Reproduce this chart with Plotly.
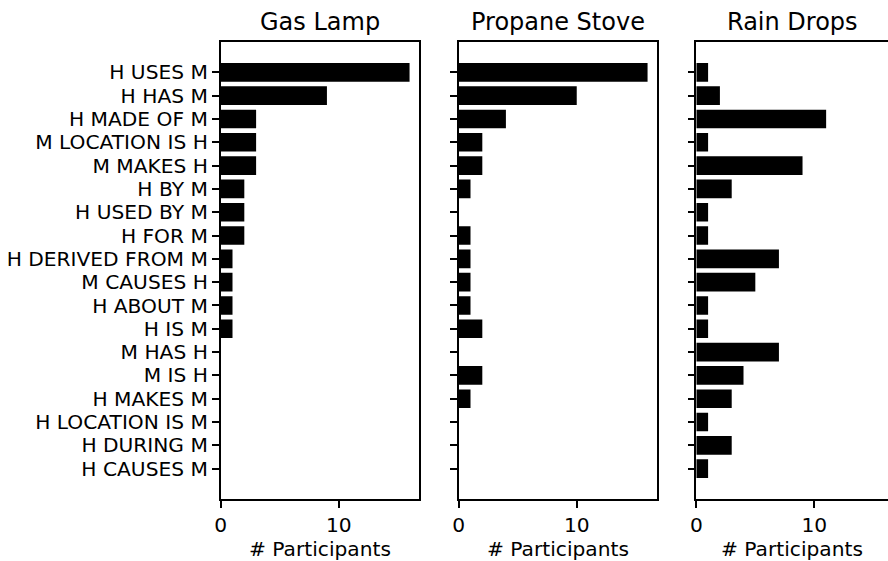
import plotly.graph_objects as go

categories = ["H USES M", "H HAS M", "H MADE OF M", "M LOCATION IS H", "M MAKES H",
              "H BY M", "H USED BY M", "H FOR M", "H DERIVED FROM M", "M CAUSES H",
              "H ABOUT M", "H IS M", "M HAS H", "M IS H", "H MAKES M",
              "H LOCATION IS M", "H DURING M", "H CAUSES M"]
gas_lamp = [16, 9, 3, 3, 3, 2, 2, 2, 1, 1, 1, 1, 0, 0, 0, 0, 0, 0]
propane_stove = [16, 10, 4, 2, 2, 1, 0, 1, 1, 1, 1, 2, 0, 2, 1, 0, 0, 0]
rain_drops = [1, 2, 11, 1, 9, 3, 1, 1, 7, 5, 1, 1, 7, 4, 3, 1, 3, 1]
titles = ["Gas Lamp", "Propane Stove", "Rain Drops"]
x_label = "# Participants"
x_ticks = [0, 10]

W, H = 888, 561
FONT = "DejaVu Sans"
TICK_SIZE = 20.2
top_px, bot_px = 42.3, 498.7
doms_px = [(220.7, 419.0), (458.7, 657.0), (696.3, 888.0)]
px_per_unit = (419.0 - 220.7) / 16.8
ydom = [1 - bot_px / H, 1 - top_px / H]

fig = go.Figure()
series = [gas_lamp, propane_stove, rain_drops]
for i, vals in enumerate(series):
    n = "" if i == 0 else str(i + 1)
    fig.add_trace(go.Bar(x=vals, y=categories, orientation="h",
                         marker=dict(color="black", line=dict(width=0)),
                         xaxis="x" + n, yaxis="y" + n, showlegend=False))
    x0, x1 = doms_px[i]
    xmax = (x1 - x0) / px_per_unit
    fig.layout["xaxis" + n] = dict(
        domain=[x0 / W, x1 / W], range=[0, xmax], anchor="y" + n, automargin=False,
        tickmode="array", tickvals=x_ticks, ticks="outside", ticklen=7, tickwidth=1.6,
        tickcolor="black",
        showline=True, linewidth=1.6, linecolor="black", mirror=True,
        showgrid=False, zeroline=False,
        tickfont=dict(family=FONT, size=TICK_SIZE, color="black"))
    fig.layout["yaxis" + n] = dict(
        domain=ydom, anchor="x" + n, type="category", automargin=False,
        categoryorder="array", categoryarray=categories,
        tickmode="array", tickvals=categories, ticktext=categories,
        range=[18.29, -1.29], ticks="outside", ticklen=7, tickwidth=1.6, tickcolor="black",
        showline=True, linewidth=1.6, linecolor="black", mirror=(i < 2),
        showgrid=False, zeroline=False, showticklabels=(i == 0),
        tickfont=dict(family=FONT, size=TICK_SIZE, color="black"))
    cx = (x0 + min(x1, x0 + 16.8 * px_per_unit)) / 2 / W
    fig.add_annotation(text=titles[i], x=cx, y=1 - 22 / H, xref="paper", yref="paper",
                       xanchor="center", yanchor="middle", showarrow=False,
                       font=dict(family=FONT, size=24, color="black"))
    fig.add_annotation(text=x_label, x=cx, y=1 - 549 / H, xref="paper", yref="paper",
                       xanchor="center", yanchor="middle", showarrow=False,
                       font=dict(family=FONT, size=TICK_SIZE, color="black"))

fig.update_layout(width=W, height=H, margin=dict(l=0, r=0, t=0, b=0),
                  paper_bgcolor="white", plot_bgcolor="white", bargap=0.2,
                  font=dict(family=FONT, color="black"))
fig.write_html("out.html")
